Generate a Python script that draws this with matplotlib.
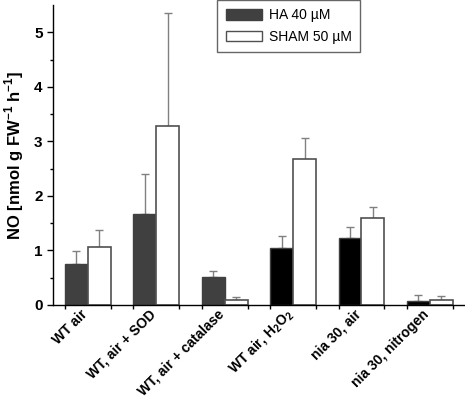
import matplotlib
matplotlib.use("Agg")
import matplotlib.pyplot as plt
import matplotlib.transforms as mtrans
import numpy as np
from matplotlib.patches import Patch

categories = ["WT air", "WT, air + SOD", "WT, air + catalase", r"WT air, H$_\mathbf{2}$O$_\mathbf{2}$", "nia 30, air", "nia 30, nitrogen"]
ha_values = [0.75, 1.67, 0.51, 1.04, 1.23, 0.08]
ha_err = [0.24, 0.73, 0.11, 0.22, 0.20, 0.10]
sham_values = [1.06, 3.28, 0.09, 2.67, 1.59, 0.10]
sham_err = [0.32, 2.07, 0.06, 0.39, 0.20, 0.07]
ha_colors = ["#404040", "#404040", "#404040", "#000000", "#000000", "#000000"]
series_names = ["HA 40 µM", "SHAM 50 µM"]

plt.rcParams['font.family'] = ['Liberation Sans', 'DejaVu Sans']
plt.rcParams['mathtext.fontset'] = 'custom'
plt.rcParams['mathtext.rm'] = 'Liberation Sans:bold'
plt.rcParams['mathtext.bf'] = 'Liberation Sans:bold'

fig = plt.figure(figsize=(4.65, 4.0), dpi=100)
ax = fig.add_axes([0.114, 0.2375, 0.884, 0.75])

x = np.arange(len(categories))
w = 0.335
ax.bar(x - w/2, ha_values, w, color=ha_colors, edgecolor="#404040", linewidth=1.0, zorder=2)
ax.bar(x + w/2, sham_values, w, color="white", edgecolor="#505050", linewidth=1.2, zorder=2)
ax.errorbar(x - w/2, ha_values, yerr=[np.zeros(len(x)), ha_err], fmt="none", ecolor="#808080",
            elinewidth=1.0, capsize=3, capthick=1.0, zorder=1)
ax.errorbar(x + w/2, sham_values, yerr=[np.zeros(len(x)), sham_err], fmt="none", ecolor="#808080",
            elinewidth=1.0, capsize=3, capthick=1.0, zorder=1)

ax.set_xlim(-0.51, 5.5)
ax.set_ylim(0, 5.5)
ax.spines['top'].set_visible(False)
ax.spines['right'].set_visible(False)
ax.spines['left'].set_linewidth(1.0)
ax.spines['bottom'].set_linewidth(1.0)

ax.set_yticks([0, 1, 2, 3, 4, 5])
ax.set_yticks(np.arange(0.5, 5.5, 1.0), minor=True)
ax.tick_params(axis='y', which='major', length=4, width=1, labelsize=11, direction='out')
ax.tick_params(axis='y', which='minor', length=2.5, width=1, direction='out')
for lab in ax.get_yticklabels():
    lab.set_fontweight('bold')

edges = sorted(set(np.concatenate([x - w, x, x + w])))
ax.set_xticks(edges, minor=True)
ax.tick_params(axis='x', which='minor', length=3, width=1, direction='out')
ax.set_xticks(x)
ax.tick_params(axis='x', which='major', length=0, labelsize=10, pad=5)
ax.set_xticklabels(categories, rotation=45, ha='right', va='center', rotation_mode='anchor', fontweight='bold')
offset = mtrans.ScaledTranslation(-0.03, 0, fig.dpi_scale_trans)
for lab in ax.get_xticklabels():
    lab.set_transform(lab.get_transform() + offset)

ax.set_ylabel(r"NO [nmol g FW$^{\mathbf{-1}}$ h$^{\mathbf{-1}}$]", fontsize=12, fontweight='bold', labelpad=6)

handles = [Patch(facecolor="#404040", edgecolor="#404040", label=series_names[0]),
           Patch(facecolor="white", edgecolor="#505050", label=series_names[1])]
leg = ax.legend(handles=handles, loc='upper left', bbox_to_anchor=(0.40, 1.017), fontsize=10,
                frameon=True, fancybox=False, edgecolor="#404040", handlelength=2.6, handleheight=0.8,
                borderpad=0.6, labelspacing=0.55, handletextpad=0.5, borderaxespad=0)
leg.get_frame().set_linewidth(1.0)

fig.savefig("out.png", dpi=100)
